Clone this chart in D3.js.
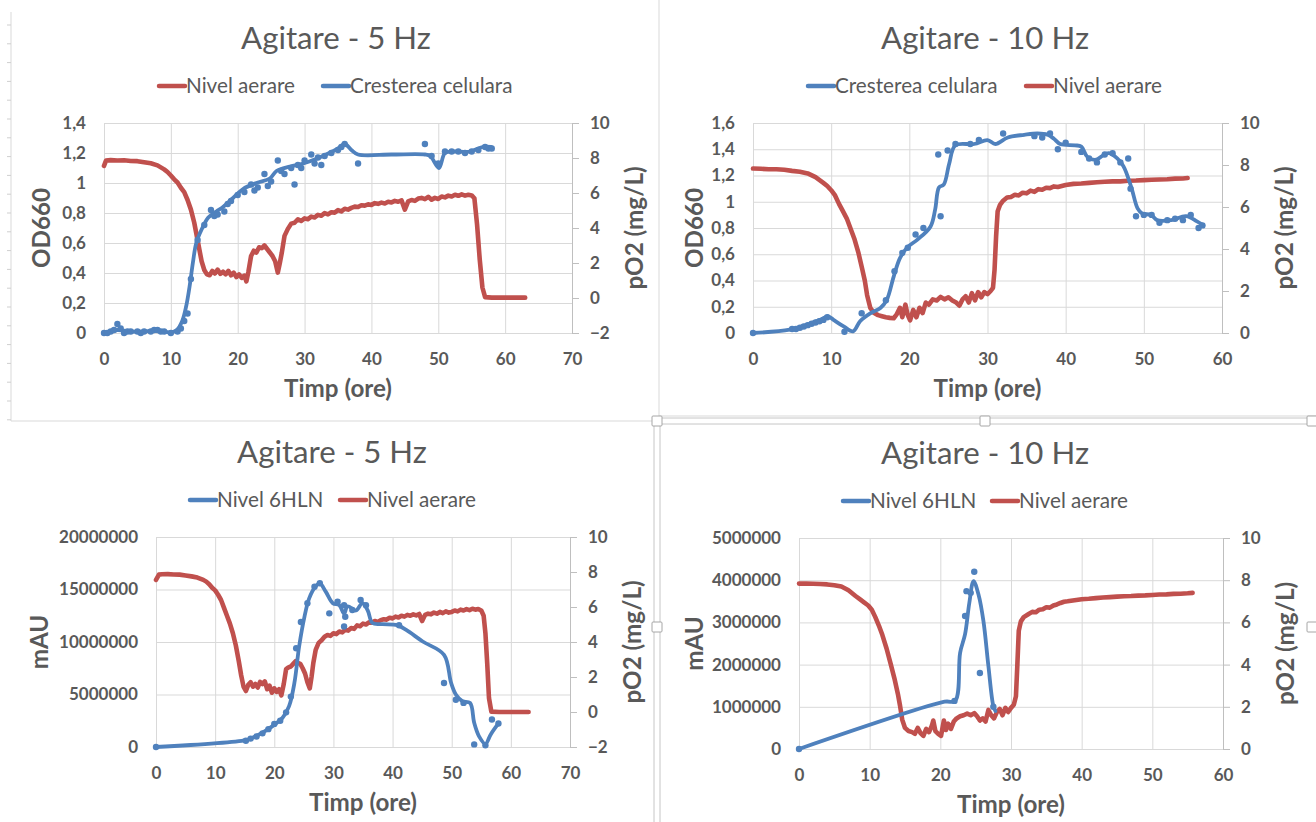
<!DOCTYPE html>
<html>
<head>
<meta charset="utf-8">
<script src="https://cdn.jsdelivr.net/npm/d3@7"></script>
<style>
  body { margin: 0; background: #fff; }
  svg { display: block; }
  text { font-family: Lato, "Open Sans", sans-serif; fill: #595959; }
</style>
</head>
<body>
<svg id="chart" width="1316" height="822"></svg>
<script>
// ---- data: [time (ore), value] ----
// 5 Hz, pO2 (top chart)
const aer5a = [[0,7.55],[0.3,7.85],[1,7.88],[2,7.86],[3,7.87],[4,7.83],[5,7.82],[6,7.76],[7,7.7],[8,7.58],[9,7.35],[9.5,7.2],[10,7.0],[10.5,6.78],[11,6.6],[11.5,6.3],[12,6.05],[12.5,5.6],[13,5.05],[13.5,4.3],[14,3.3],[14.3,2.7],[14.6,2.1],[15,1.6],[15.4,1.35],[15.8,1.3],[16.2,1.55],[16.6,1.4],[17,1.62],[17.4,1.38],[17.8,1.5],[18.2,1.35],[18.6,1.55],[19,1.3],[19.4,1.45],[19.8,1.2],[20.2,1.35],[20.6,1.15],[21,1.28],[21.3,0.95],[21.6,1.5],[22,2.4],[22.4,2.7],[22.8,2.6],[23.2,2.9],[23.6,2.85],[24,3.0],[24.4,2.8],[24.8,2.6],[25.2,2.4],[25.6,2.1],[26,1.45],[26.3,2.0],[26.6,2.6],[27,3.55],[27.5,3.95],[28,4.25],[28.5,4.3],[29,4.5],[29.5,4.4],[30,4.55],[30.5,4.5],[31,4.65],[31.5,4.6],[32,4.75],[32.5,4.7],[33,4.85],[33.5,4.78],[34,4.9],[34.5,4.88],[35,5.02],[35.5,4.95],[36,5.1],[36.5,5.05],[37,5.15],[37.5,5.22],[38,5.2],[38.5,5.3],[39,5.28],[39.5,5.35],[40,5.32],[40.5,5.42],[41,5.38],[41.5,5.45],[42,5.4],[42.5,5.5],[43,5.46],[43.5,5.55],[44,5.5],[44.5,5.58],[45,5.05],[45.5,5.52],[46,5.6],[46.5,5.55],[47,5.68],[47.5,5.72],[48,5.65],[48.5,5.78],[49,5.62],[49.5,5.72],[50,5.66],[50.5,5.8],[51,5.75],[51.5,5.85],[52,5.8],[52.5,5.9],[53,5.84],[53.5,5.92],[54,5.85],[54.5,5.9],[55,5.86],[55.4,5.7],[55.8,4.2],[56.2,2.2],[56.6,0.6],[57,0.05],[58,0.02],[60,0.02],[63,0.02]];
// 5 Hz, OD660 line and markers
const od5Line = [[0,0],[1,0.01],[2,0.02],[3,0.015],[4,0.01],[5,0.01],[6,0.01],[7,0.015],[8,0.018],[9,0.01],[10,0.004],[10.9,0.02],[11.7,0.08],[12.3,0.18],[12.8,0.31],[13.3,0.47],[13.8,0.6],[14.6,0.69],[15.6,0.77],[16.8,0.81],[17.8,0.84],[19.3,0.9],[20.8,0.96],[22.8,1.0],[24.8,1.03],[25.8,1.08],[27.8,1.11],[29.8,1.13],[31.7,1.16],[33.7,1.2],[35,1.23],[36,1.26],[37,1.22],[38,1.19],[43,1.19],[48,1.19],[48.8,1.18],[50.1,1.1],[51,1.2],[52.3,1.21],[54.8,1.21],[56.6,1.24],[57.9,1.24]];
const od5Pts = [[0,0],[0.5,0],[1,0.01],[1.5,0.02],[2,0.06],[2.5,0.03],[3,0],[3.5,0.01],[4,0.01],[5,0.01],[5.5,0],[6,0.01],[7,0.01],[7.5,0.02],[8,0.02],[8.5,0.01],[9,0.01],[10,0],[11,0.01],[11.5,0.03],[12,0.08],[12.5,0.13],[13,0.36],[14,0.62],[15,0.72],[16,0.82],[16.5,0.78],[17,0.79],[18,0.81],[18.5,0.86],[19,0.88],[20,0.92],[21,0.94],[22,0.99],[22.5,0.95],[23,0.97],[24,1.06],[24.5,0.98],[25,1.01],[26,1.15],[26.5,1.08],[27,1.06],[28,1.1],[28.5,0.99],[29,1.12],[29.5,1.1],[30,1.15],[31,1.19],[31.5,1.13],[32,1.17],[32.5,1.12],[33,1.18],[34,1.2],[35,1.22],[35.5,1.24],[36,1.26],[38,1.13],[48,1.26],[49,1.18],[50,1.13],[51,1.21],[52,1.21],[53,1.21],[54,1.2],[55,1.21],[56,1.22],[57,1.24],[57.5,1.23],[58,1.23]];

// 10 Hz, pO2 (top chart)
const aer10a = [[0,7.83],[1,7.82],[2,7.8],[3,7.8],[4,7.77],[5,7.72],[6,7.68],[7,7.6],[8,7.42],[9,7.15],[9.5,7.0],[10,6.8],[10.5,6.55],[11,6.15],[11.5,5.8],[12,5.45],[12.5,4.95],[13,4.45],[13.5,3.8],[14,3.0],[14.3,2.5],[14.6,1.8],[15,1.2],[15.5,0.95],[16,0.85],[16.5,0.8],[17,0.75],[17.5,0.72],[18,0.7],[18.4,0.9],[18.8,1.2],[19.1,0.75],[19.5,1.35],[19.8,0.85],[20.1,0.6],[20.5,1.1],[20.9,0.75],[21.3,1.2],[21.7,0.95],[22.1,1.45],[22.5,1.35],[23,1.6],[23.5,1.55],[24,1.72],[24.5,1.6],[25,1.7],[25.5,1.55],[26,1.45],[26.4,1.3],[26.8,1.6],[27.2,1.75],[27.6,1.45],[28,1.9],[28.4,1.55],[28.8,1.95],[29.2,1.7],[29.6,1.95],[30,1.85],[30.4,2.0],[30.7,2.15],[30.9,3.0],[31.1,4.6],[31.3,5.8],[31.6,6.1],[32,6.3],[32.5,6.45],[33,6.48],[33.5,6.58],[34,6.55],[34.5,6.68],[35,6.65],[35.5,6.78],[36,6.72],[36.5,6.85],[37,6.82],[37.5,6.92],[38,6.9],[38.5,6.98],[39,6.95],[40,7.05],[41,7.1],[42,7.12],[43,7.15],[44,7.18],[45,7.2],[46,7.22],[47,7.22],[48,7.25],[49,7.26],[50,7.28],[51,7.3],[52,7.31],[53,7.32],[54,7.35],[55,7.36],[55.6,7.38]];
const od10Line = [[0,0],[4.7,0.025],[6.9,0.063],[8.6,0.1],[9.6,0.127],[10.3,0.1],[11.6,0.05],[12.8,0.013],[13.7,0.09],[15,0.15],[16.3,0.19],[17.1,0.25],[18,0.43],[18.8,0.57],[19.7,0.65],[21,0.71],[22.7,0.81],[23.3,0.94],[23.8,1.11],[24.4,1.13],[25.1,1.29],[25.9,1.43],[28.3,1.44],[30,1.47],[31,1.44],[32.6,1.49],[34.7,1.51],[36.4,1.52],[37.7,1.51],[38.5,1.48],[39.3,1.44],[41.2,1.43],[42,1.42],[42.8,1.34],[43.9,1.32],[44.7,1.35],[45.5,1.37],[46.6,1.33],[47.4,1.27],[48.4,1.11],[49.2,0.95],[49.8,0.91],[50.9,0.9],[51.7,0.86],[53.5,0.86],[55.4,0.89],[56.8,0.85],[57.6,0.82]];
const od10Pts = [[0,0],[5,0.03],[5.5,0.03],[6,0.04],[6.5,0.05],[7,0.06],[7.5,0.07],[8,0.08],[8.5,0.09],[9,0.1],[9.5,0.12],[11.7,0.01],[13.9,0.15],[17,0.25],[18.1,0.47],[19.1,0.61],[19.8,0.65],[20.8,0.75],[21.8,0.8],[23.7,1.36],[24,0.89],[24.9,1.39],[25.9,1.44],[27.8,1.44],[28.9,1.47],[32,1.52],[36,1.5],[37,1.49],[38,1.52],[39,1.4],[40,1.45],[42,1.38],[43,1.33],[44,1.3],[45,1.36],[46,1.37],[47,1.3],[48,1.33],[48.3,1.1],[49,0.89],[50,0.9],[51,0.9],[52,0.84],[53,0.86],[54,0.87],[55,0.86],[56,0.9],[57,0.8],[57.5,0.82]];

// 5 Hz, 6HLN (bottom chart)
const aer5b = [[0,7.55],[0.5,7.85],[1,7.87],[2,7.88],[3,7.86],[4,7.85],[5,7.8],[6,7.75],[7,7.68],[8,7.55],[8.5,7.45],[9,7.3],[9.5,7.1],[10,6.95],[10.5,6.7],[11,6.4],[11.5,5.95],[12,5.5],[12.5,5.05],[13,4.5],[13.5,3.8],[14,2.9],[14.4,2.1],[14.8,1.45],[15.2,1.2],[15.6,1.55],[16,1.7],[16.4,1.45],[16.8,1.6],[17.2,1.4],[17.6,1.72],[18,1.6],[18.4,1.75],[18.8,1.3],[19.2,1.5],[19.6,1.1],[20,1.35],[20.4,1.15],[20.8,1.3],[21.2,0.95],[21.6,1.6],[22,2.45],[22.4,2.55],[22.8,2.6],[23.2,2.75],[23.6,2.9],[24,2.8],[24.4,2.75],[24.8,2.5],[25.2,2.2],[25.6,1.7],[26,1.35],[26.3,2.0],[26.6,2.8],[27,3.55],[27.5,3.95],[28,4.1],[28.5,4.3],[29,4.4],[29.5,4.35],[30,4.5],[30.5,4.45],[31,4.6],[31.5,4.55],[32,4.7],[32.5,4.65],[33,4.8],[33.5,4.75],[34,4.95],[34.5,4.9],[35,5.05],[35.5,5.0],[36,5.12],[36.5,5.1],[37,5.2],[37.5,5.15],[38,5.25],[38.5,5.3],[39,5.28],[39.5,5.38],[40,5.35],[40.5,5.45],[41,5.4],[41.5,5.5],[42,5.45],[42.5,5.55],[43,5.5],[43.5,5.58],[44,5.52],[44.5,5.6],[45,5.2],[45.5,5.55],[46,5.62],[46.5,5.58],[47,5.68],[47.5,5.62],[48,5.72],[48.5,5.65],[49,5.75],[49.5,5.68],[50,5.72],[50.5,5.8],[51,5.75],[51.5,5.85],[52,5.8],[52.5,5.88],[53,5.82],[53.5,5.9],[54,5.85],[54.5,5.88],[55,5.8],[55.4,5.5],[55.7,4.5],[56,2.8],[56.3,0.8],[56.7,0.02],[58,0],[60,0],[63,0]];
const hln5Line = [[0,0],[15.2,660000],[16.3,880000],[18,1360000],[19.7,1990000],[21.4,2780000],[22.5,3890000],[23.4,6100000],[24.2,9570000],[25.1,12400000],[25.9,14150000],[27,15300000],[27.7,15580000],[28.7,14800000],[29.9,13700000],[31,13500000],[31.8,12700000],[32.4,13400000],[33.8,13000000],[34.9,13700000],[35.8,13000000],[36.6,11800000],[38.3,11700000],[40.8,11600000],[42.3,11150000],[45.1,10050000],[48.7,8780000],[49.9,6100000],[50.7,5000000],[51.8,4360000],[53.1,4200000],[53.8,2300000],[54.6,1040000],[55.7,300000],[56.6,1200000],[57.9,2240000]];
const hln5Pts = [[0,0],[15.2,600000],[16,800000],[17,1000000],[18,1300000],[19,1700000],[20,2200000],[21,2500000],[22,3300000],[22.8,4800000],[23.7,9400000],[24.5,11900000],[25.6,13700000],[26.8,15260000],[27.7,15600000],[29.3,12730000],[30.7,13840000],[31.8,13500000],[31.8,11470000],[32,12400000],[33.2,13050000],[34.6,14000000],[35.5,13500000],[41.1,11600000],[48.7,6100000],[50.7,4500000],[52,4200000],[53.8,250000],[55.7,160000],[56.8,2620000],[57.9,2240000]];

// 10 Hz, 6HLN (bottom chart)
const aer10b = [[0,7.84],[1,7.84],[2,7.83],[3,7.82],[4,7.8],[5,7.76],[6,7.7],[7,7.52],[8,7.25],[8.6,7.1],[9.2,6.95],[9.8,6.8],[10.3,6.6],[10.8,6.25],[11.3,5.85],[11.8,5.4],[12.4,4.75],[13,4.0],[13.5,3.35],[14,2.6],[14.3,2.05],[14.6,1.4],[15,1.0],[15.5,0.85],[16,0.8],[16.4,0.72],[16.8,1.0],[17.2,0.75],[17.6,0.62],[18,0.95],[18.4,0.8],[18.8,1.1],[19,1.35],[19.3,0.85],[19.7,0.72],[20.1,0.62],[20.5,1.35],[20.8,0.9],[21.1,1.2],[21.5,0.95],[21.9,1.3],[22.3,1.45],[22.8,1.55],[23.3,1.6],[23.8,1.68],[24.3,1.6],[24.8,1.7],[25.2,1.55],[25.6,1.35],[26,1.45],[26.4,1.3],[26.8,1.85],[27.2,1.6],[27.6,1.45],[28,1.75],[28.4,1.9],[28.8,1.6],[29.2,1.95],[29.6,1.75],[30,1.95],[30.4,2.1],[30.7,2.5],[30.9,4.0],[31.1,5.6],[31.4,6.05],[31.8,6.25],[32.5,6.4],[33,6.5],[33.5,6.48],[34,6.6],[34.5,6.62],[35,6.72],[35.5,6.7],[36,6.8],[36.5,6.85],[37,6.92],[37.5,6.98],[38,7.0],[39,7.05],[40,7.1],[41,7.12],[42,7.15],[43,7.18],[44,7.2],[45,7.22],[46,7.24],[47,7.25],[48,7.27],[49,7.28],[50,7.3],[51,7.32],[52,7.33],[53,7.35],[54,7.36],[55,7.38],[55.7,7.4]];
const hln10Line = [[0,0],[20.6,1120000],[22.1,1140000],[22.8,2280000],[23.5,2720000],[24.1,3460000],[24.7,3980000],[25.4,3660000],[26.1,3030000],[26.8,1970000],[27.5,1020000],[27.8,900000]];
const hln10Pts = [[0,0],[22,1140000],[23.5,3150000],[23.7,3740000],[24.3,3700000],[24.8,4200000],[25.6,1800000],[27.5,1000000]];

// tick values
const xTicks70 = [0,10,20,30,40,50,60,70];
const xTicks60 = [0,10,20,30,40,50,60];
const odTicks14 = [0,0.2,0.4,0.6,0.8,1,1.2,1.4];
const odTicks16 = [0,0.2,0.4,0.6,0.8,1,1.2,1.4,1.6];
const mauTicks20 = [0,5000000,10000000,15000000,20000000];
const mauTicks5 = [0,1000000,2000000,3000000,4000000,5000000];
const pO2TicksNeg = [-2,0,2,4,6,8,10];
const pO2Ticks = [0,2,4,6,8,10];

const RED = '#c0504d', BLUE = '#4f81bd', GRID = '#d9d9d9';
const svg = d3.select('#chart');
const comma = d => String(d).replace('.', ',');

// font size that gives a string a wanted width (the original used Calibri)
function fitSize(str, width, weight) {
  const t = svg.append('text').style('font-size', '100px').style('font-weight', weight).text(str);
  const len = t.node().getComputedTextLength();
  t.remove();
  return 100 * width / len;
}
const tickSize = fitSize('20000000', 79, 700);
const titleSize = fitSize('Agitare - 5 Hz', 190, 400);
const legendSize = fitSize('Nivel aerare', 109, 400);
const axisSize = fitSize('Timp (ore)', 108, 700);

// ---- frames of the sheet (chart borders, selection) ----
const frame = svg.append('g').attr('fill', 'none');
frame.append('path').attr('d', 'M11,12V421H652').attr('stroke', GRID);
frame.append('path').attr('d', 'M659,0V416H1316').attr('stroke', GRID);
d3.range(25, 420, 18.8).forEach(y => {
  frame.append('line').attr('x1', 7).attr('x2', 11).attr('y1', y).attr('y2', y).attr('stroke', '#cfcfcf');
});
frame.append('path').attr('d', 'M657,418H1316 M657,424H1316 M654,421V822 M660,421V822').attr('stroke', '#c6c6c6');
[[657,421],[985,421],[1312,421],[657,627],[1312,627]].forEach(([hx, hy]) => {
  frame.append('rect').attr('x', hx - 5).attr('y', hy - 5).attr('width', 10).attr('height', 10)
    .attr('rx', 1).attr('fill', '#fff').attr('stroke', '#a6a6a6');
});

function panel(p) {
  const g = svg.append('g');
  const x = d3.scaleLinear().domain([0, p.xMax]).range([p.left, p.right]);
  const yL = d3.scaleLinear().domain([0, p.yMax]).range([p.bottom, p.top]);
  const yR = d3.scaleLinear().domain([p.rMin, 10]).range([p.bottom, p.top]);
  const w = p.right - p.left, h = p.bottom - p.top;

  const gx = g.append('g').attr('transform', `translate(0,${p.bottom})`)
    .call(d3.axisBottom(x).tickValues(p.xTicks).tickSize(-h).tickPadding(20));
  const gl = g.append('g').attr('transform', `translate(${p.left},0)`)
    .call(d3.axisLeft(yL).tickValues(p.yTicks).tickSize(-w).tickPadding(18).tickFormat(p.fmt));
  const gr = g.append('g').attr('transform', `translate(${p.right},0)`)
    .call(d3.axisRight(yR).tickValues(p.rTicks).tickSize(7).tickSizeOuter(0).tickPadding(11));
  [gx, gl].forEach(a => a.select('.domain').remove());
  gr.select('.domain').attr('stroke', '#bfbfbf');
  g.selectAll('.tick line').attr('stroke', GRID);
  gr.selectAll('.tick line').attr('stroke', '#bfbfbf');
  g.selectAll('.tick text').style('font-size', tickSize + 'px').style('font-weight', 700)
    .attr('fill', '#595959').style('font-family', 'Lato, sans-serif');

  const redLine = d3.line().x(d => x(d[0])).y(d => yR(d[1]));
  const blueLine = d3.line().x(d => x(d[0])).y(d => yL(d[1])).curve(d3.curveCatmullRom.alpha(0.5));

  g.append('path').datum(p.red).attr('d', redLine).attr('fill', 'none')
    .attr('stroke', RED).attr('stroke-width', 4.6).attr('stroke-linejoin', 'round').attr('stroke-linecap', 'round');
  g.append('path').datum(p.blue).attr('d', blueLine).attr('fill', 'none')
    .attr('stroke', BLUE).attr('stroke-width', 3.8).attr('stroke-linejoin', 'round').attr('stroke-linecap', 'round');
  g.append('g').selectAll('circle').data(p.pts).join('circle')
    .attr('cx', d => x(d[0])).attr('cy', d => yL(d[1])).attr('r', 3.2).attr('fill', BLUE);

  // titles
  g.append('text').attr('x', p.titleX).attr('y', p.top - 74).attr('text-anchor', 'middle')
    .style('font-size', titleSize + 'px').text(p.title);
  g.append('text').attr('x', (p.left + p.right) / 2).attr('y', p.bottom + 64).attr('text-anchor', 'middle')
    .style('font-size', axisSize + 'px').style('font-weight', 700).text('Timp (ore)');
  const cy = (p.top + p.bottom) / 2;
  g.append('text').attr('transform', `translate(${p.left - p.yTitleOff},${cy}) rotate(-90)`)
    .attr('text-anchor', 'middle').attr('dy', '0.35em').style('font-size', axisSize + 'px').style('font-weight', 700).text(p.yTitle);
  g.append('text').attr('transform', `translate(${p.right + 63},${cy}) rotate(-90)`)
    .attr('text-anchor', 'middle').attr('dy', '0.35em').style('font-size', axisSize + 'px').style('font-weight', 700).text('pO2 (mg/L)');

  // legend
  p.legend.forEach(([lx, color, label]) => {
    const ly = p.top - 37;
    g.append('line').attr('x1', lx).attr('x2', lx + 26).attr('y1', ly).attr('y2', ly)
      .attr('stroke', color).attr('stroke-width', 4.5).attr('stroke-linecap', 'round');
    g.append('text').attr('x', lx + 27).attr('y', ly).attr('dy', '0.35em').style('font-size', legendSize + 'px').text(label);
  });
}

panel({ left: 104, right: 572, top: 123, bottom: 333, xMax: 70, yMax: 1.4, rMin: -2,
  xTicks: xTicks70, yTicks: odTicks14, rTicks: pO2TicksNeg, fmt: comma,
  red: aer5a, blue: od5Line, pts: od5Pts, title: 'Agitare - 5 Hz', titleX: 336,
  yTitle: 'OD660', yTitleOff: 62,
  legend: [[159, RED, 'Nivel aerare'], [323, BLUE, 'Cresterea celulara']] });

panel({ left: 753, right: 1222, top: 123, bottom: 333, xMax: 60, yMax: 1.6, rMin: 0,
  xTicks: xTicks60, yTicks: odTicks16, rTicks: pO2Ticks, fmt: comma,
  red: aer10a, blue: od10Line, pts: od10Pts, title: 'Agitare - 10 Hz', titleX: 985,
  yTitle: 'OD660', yTitleOff: 58,
  legend: [[808, BLUE, 'Cresterea celulara'], [1026, RED, 'Nivel aerare']] });

panel({ left: 156, right: 570, top: 537, bottom: 747, xMax: 70, yMax: 20000000, rMin: -2,
  xTicks: xTicks70, yTicks: mauTicks20, rTicks: pO2TicksNeg, fmt: d => String(d),
  red: aer5b, blue: hln5Line, pts: hln5Pts, title: 'Agitare - 5 Hz', titleX: 332,
  yTitle: 'mAU', yTitleOff: 116,
  legend: [[190, BLUE, 'Nivel 6HLN'], [340, RED, 'Nivel aerare']] });

panel({ left: 799, right: 1223, top: 538, bottom: 749, xMax: 60, yMax: 5000000, rMin: 0,
  xTicks: xTicks60, yTicks: mauTicks5, rTicks: pO2Ticks, fmt: d => String(d),
  red: aer10b, blue: hln10Line, pts: hln10Pts, title: 'Agitare - 10 Hz', titleX: 985,
  yTitle: 'mAU', yTitleOff: 104,
  legend: [[843, BLUE, 'Nivel 6HLN'], [992, RED, 'Nivel aerare']] });
</script>
</body>
</html>
